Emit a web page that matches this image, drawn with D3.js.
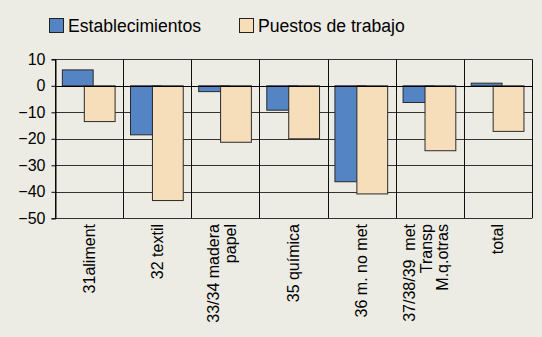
<!DOCTYPE html>
<html>
<head>
<meta charset="utf-8">
<script src="https://cdn.jsdelivr.net/npm/d3@7"></script>
<style>
  html, body { margin: 0; padding: 0; background: #edece4; }
  svg { display: block; font-family: "Liberation Sans", Arial, sans-serif; }
</style>
</head>
<body>
<svg id="chart" width="542" height="337"></svg>
<script>
// Categories (each entry is the list of lines of its label)
const categories = ["31aliment", "32 textil", "33/34 madera papel", "35 química",
                    "36 m. no met", "37/38/39 met Transp M.q.otras", "total"];
const categoryLines = [["31aliment"], ["32 textil"], ["33/34 madera", "papel"], ["35 química"],
                       ["36 m. no met"], ["37/38/39  met", "Transp", "M.q.otras"], ["total"]];
const seriesNames = ["Establecimientos", "Puestos de trabajo"];
const establecimientos = [6, -18.5, -2.2, -9.2, -36.2, -6.3, 1];
const puestos = [-13.5, -43.3, -21.3, -20, -40.8, -24.5, -17.2];
const yTicks = [10, 0, -10, -20, -30, -40, -50];
const colors = ["#5484c4", "#f7deba"];

const svg = d3.select("#chart");
const plot = { left: 55, right: 532, top: 59.3, bottom: 218.3 };

const x = d3.scaleBand().domain(categories).range([plot.left, plot.right]).padding(0);
const y = d3.scaleLinear().domain([-50, 10]).range([plot.bottom, plot.top]);
const bw = x.bandwidth();
// Excel-style overlapping clustered bars
const barW = bw * 0.452;
const xOff = d3.scaleOrdinal().domain(seriesNames).range([bw * 0.108, bw * 0.43]);

// Horizontal gridlines
svg.append("g").selectAll("line").data(yTicks).join("line")
  .attr("x1", plot.left).attr("x2", plot.right)
  .attr("y1", d => Math.round(y(d)) + 0.5).attr("y2", d => Math.round(y(d)) + 0.5)
  .attr("stroke", "#333").attr("stroke-width", 1);

// Vertical gridlines at category boundaries
const bounds = categories.map(c => x(c)).concat([plot.right]);
svg.append("g").selectAll("line").data(bounds).join("line")
  .attr("x1", d => Math.round(d) + 0.5).attr("x2", d => Math.round(d) + 0.5)
  .attr("y1", plot.top).attr("y2", plot.bottom)
  .attr("stroke", "#111").attr("stroke-width", 1);

// Bars
const seriesData = [establecimientos, puestos];
seriesData.forEach((vals, si) => {
  svg.append("g").selectAll("rect").data(vals).join("rect")
    .attr("x", (d, i) => x(categories[i]) + xOff(seriesNames[si]))
    .attr("width", barW)
    .attr("y", d => y(Math.max(0, d)))
    .attr("height", d => Math.abs(y(d) - y(0)))
    .attr("fill", colors[si])
    .attr("stroke", "#2a2a2a").attr("stroke-width", 1);
});

// Zero axis with crossing ticks at category boundaries
const zeroY = Math.round(y(0)) + 0.5;
svg.append("line").attr("x1", plot.left).attr("x2", plot.right)
  .attr("y1", zeroY).attr("y2", zeroY).attr("stroke", "#000").attr("stroke-width", 1.2);
svg.append("g").selectAll("line").data(bounds).join("line")
  .attr("x1", d => Math.round(d) + 0.5).attr("x2", d => Math.round(d) + 0.5)
  .attr("y1", zeroY - 3).attr("y2", zeroY + 3).attr("stroke", "#000");

// Value axis
const yAxis = d3.axisLeft(y).tickValues(yTicks).tickSize(4).tickPadding(6).tickFormat(d3.format("d"));
const gy = svg.append("g").attr("transform", `translate(${plot.left + 0.5},0)`).call(yAxis);
gy.select(".domain").attr("stroke", "#000");
gy.selectAll(".tick line").attr("stroke", "#000");
gy.selectAll(".tick text").attr("font-size", 16).attr("fill", "#000")
  .attr("font-family", "Liberation Sans, Arial, sans-serif");

// Rotated category labels
const lineH = 16.5;
const labelG = svg.append("g").attr("font-size", 16).attr("fill", "#000");
categoryLines.forEach((lines, i) => {
  const cx = x(categories[i]) + bw / 2;
  const n = lines.length;
  const shift = n === 1 ? 5.5 : 2;
  lines.forEach((ln, j) => {
    const bx = cx + (j - (n - 1) / 2) * lineH + shift;
    labelG.append("text")
      .attr("transform", `translate(${bx},224) rotate(-90)`)
      .attr("text-anchor", "end")
      .attr("xml:space", "preserve")
      .text(ln);
  });
});

// Legend
const legendX = [49.5, 239.5];
const legend = svg.append("g");
seriesNames.forEach((name, i) => {
  legend.append("rect").attr("x", legendX[i]).attr("y", 18.5).attr("width", 14).attr("height", 14)
    .attr("fill", colors[i]).attr("stroke", "#222").attr("stroke-width", 1);
  legend.append("text").attr("x", legendX[i] + 18.5).attr("y", 31.7)
    .attr("font-size", 17.6).attr("fill", "#000").text(name);
});
</script>
</body>
</html>
